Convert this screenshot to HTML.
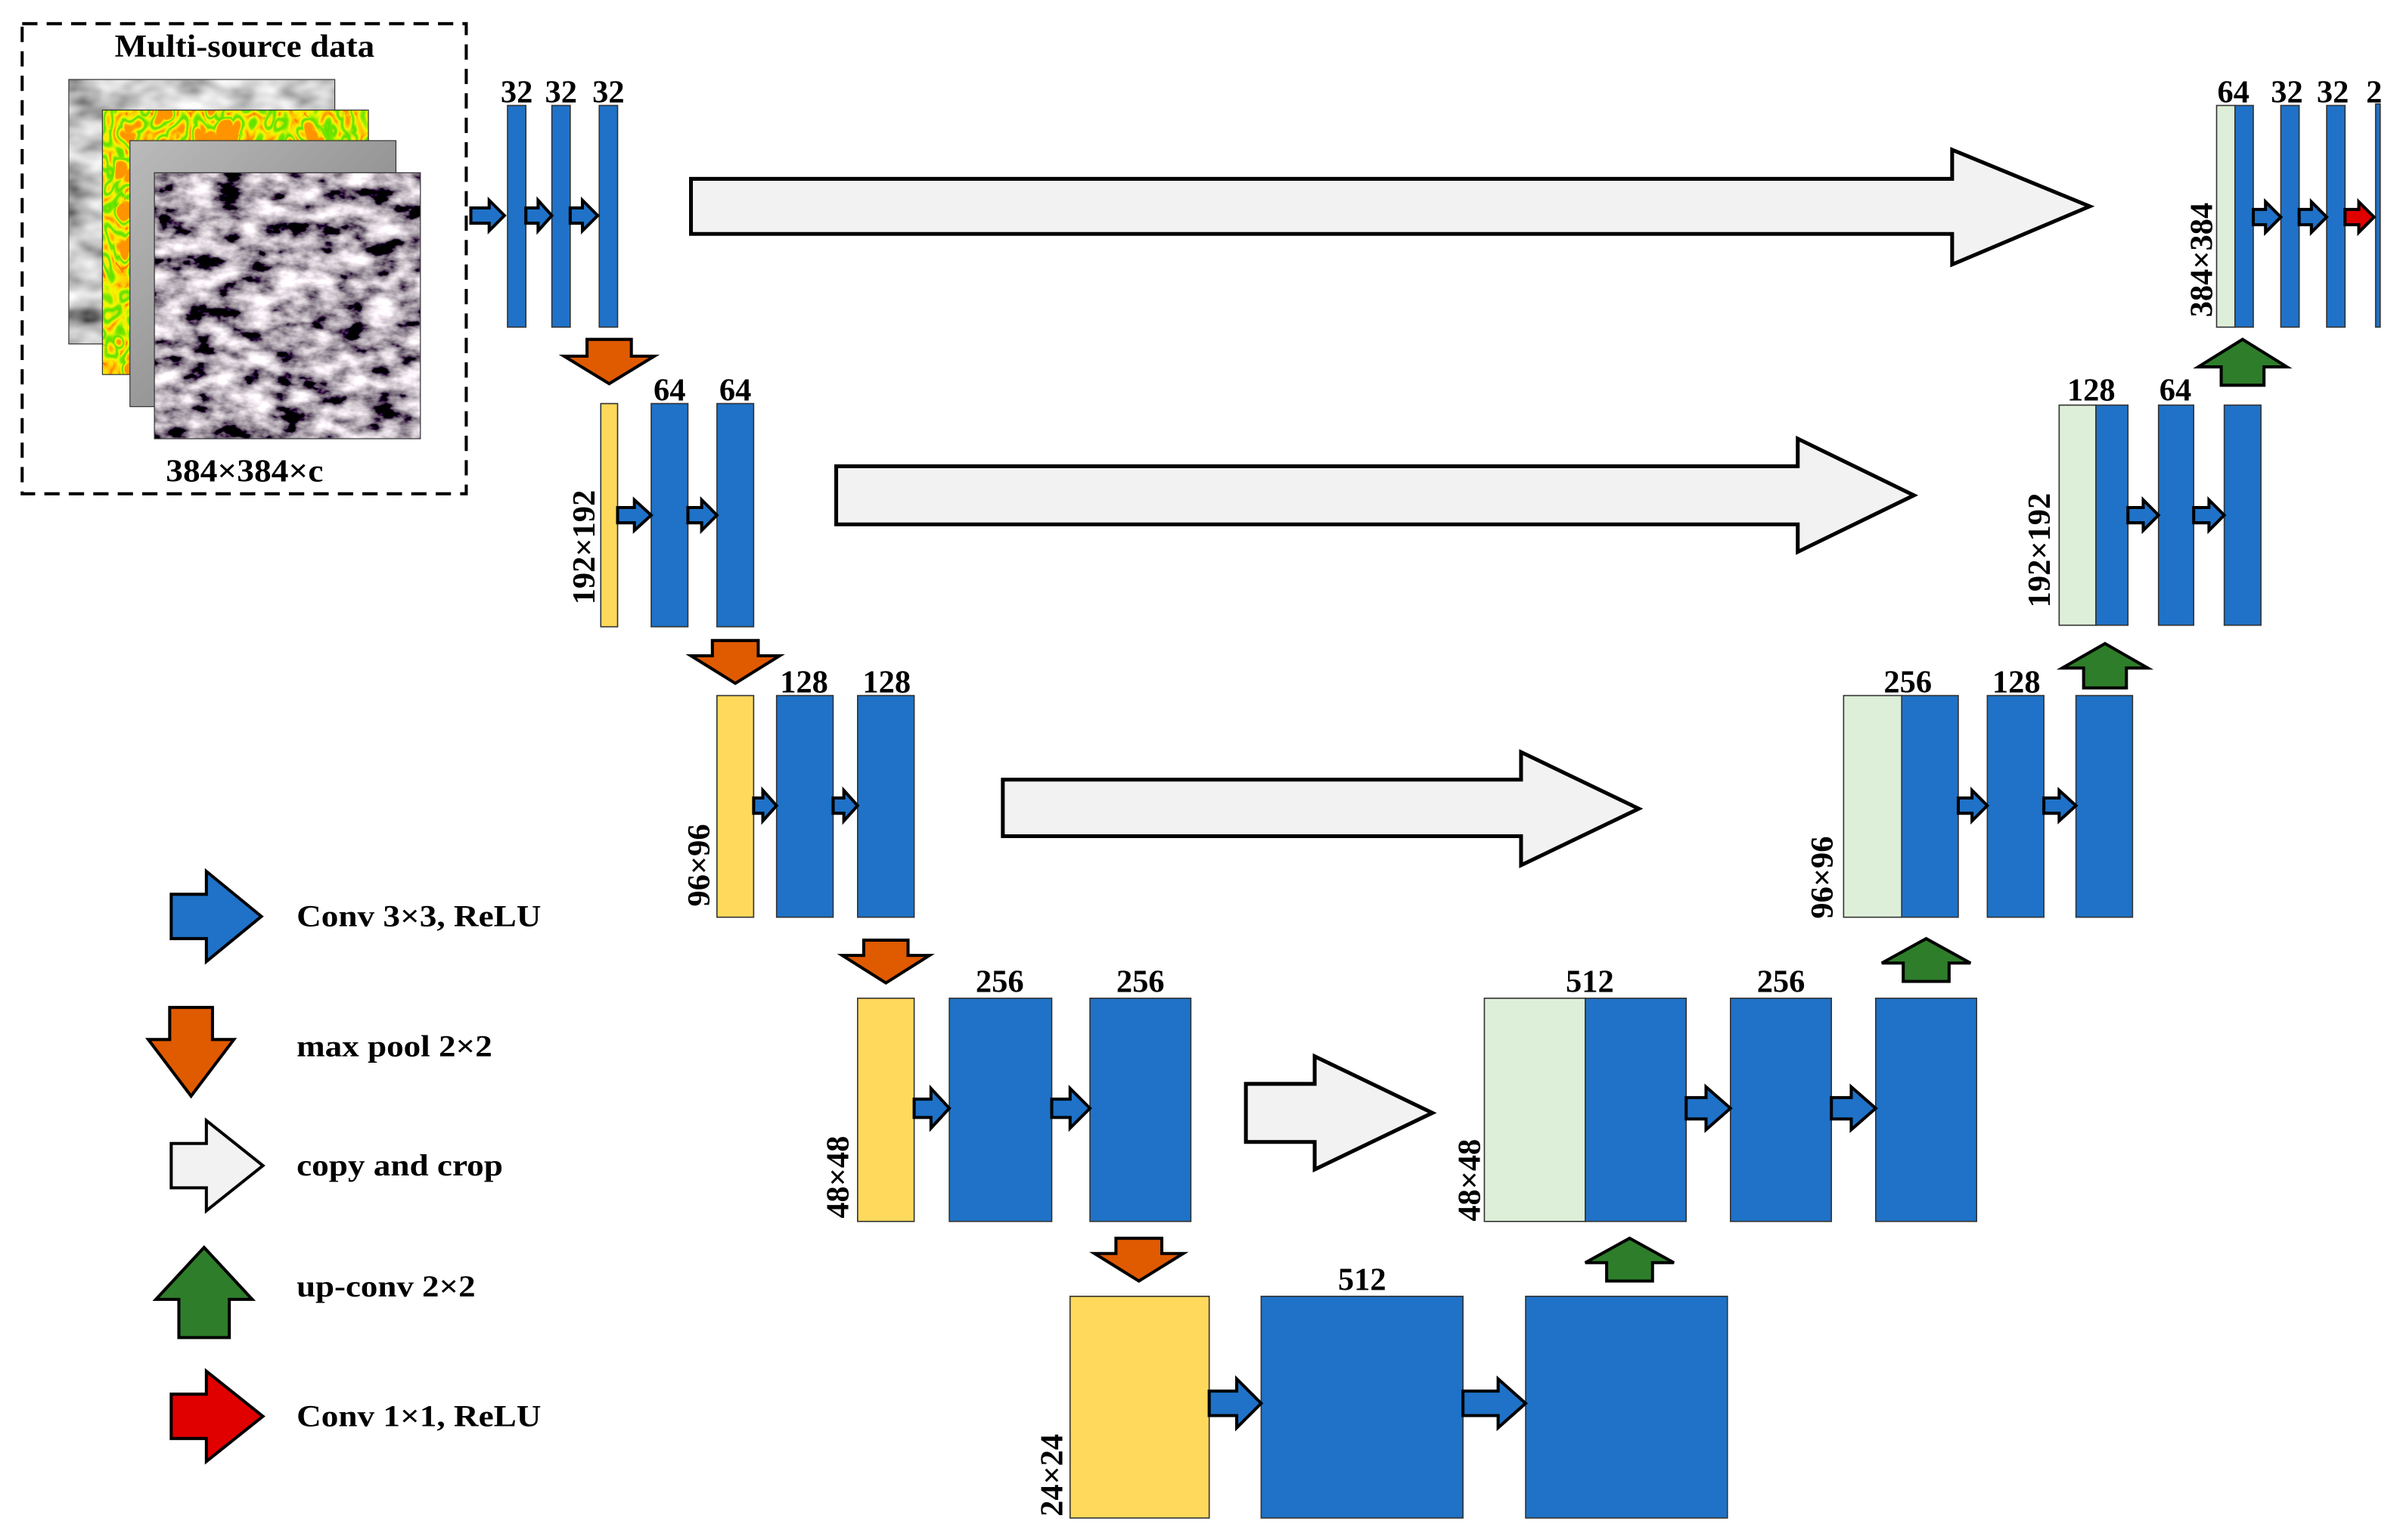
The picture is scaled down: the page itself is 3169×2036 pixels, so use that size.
<!DOCTYPE html>
<html><head><meta charset="utf-8"><style>html,body{margin:0;padding:0;background:#fff}svg{display:block}</style></head>
<body>
<svg xmlns="http://www.w3.org/2000/svg" width="3169" height="2036" viewBox="0 0 1568 1007.4" preserveAspectRatio="none">
<defs>
<filter id="fsat" x="0" y="0" width="1" height="1"><feTurbulence type="fractalNoise" baseFrequency="0.05 0.09" numOctaves="4" seed="3"/><feColorMatrix type="matrix" values="2.4 0 0 0 -0.75  2.3 0 0 0 -0.75  2.3 0 0 0 -0.7  0 0 0 0 1"/></filter>
<filter id="fhill" x="0" y="0" width="1" height="1"><feTurbulence type="fractalNoise" baseFrequency="0.03 0.05" numOctaves="3" seed="7"/><feColorMatrix type="matrix" values="1.8 0 0 0 -0.3  1.8 0 0 0 -0.3  1.8 0 0 0 -0.3  0 0 0 0 1"/></filter>
<filter id="fcol" x="0" y="0" width="1" height="1"><feTurbulence type="turbulence" baseFrequency="0.06 0.04" numOctaves="2" seed="11"/><feColorMatrix type="matrix" values="2.5 0 0 0 0  2.5 0 0 0 0  2.5 0 0 0 0  0 0 0 0 1"/><feComponentTransfer><feFuncR type="table" tableValues="1 1 0.9 0.2 0.1 1 1"/><feFuncG type="table" tableValues="0.2 0.6 0.95 0.8 0.75 0.9 0.3"/><feFuncB type="table" tableValues="0 0 0 0 0 0 0"/></feComponentTransfer></filter>
<linearGradient id="ggray" x1="0" y1="0" x2="1" y2="1"><stop offset="0" stop-color="#bbb"/><stop offset="0.5" stop-color="#999"/><stop offset="1" stop-color="#777"/></linearGradient>
</defs>
<g font-family="'Liberation Serif', serif" font-weight="bold" fill="#000">
<rect x="14.5" y="15.5" width="290.5" height="307.5" fill="none" stroke="#000" stroke-width="2" stroke-dasharray="10,6"/>
<text x="160" y="37" font-size="21" text-anchor="middle" textLength="170" lengthAdjust="spacingAndGlyphs">Multi-source data</text>
<rect x="45" y="52" width="174" height="173" fill="#ccc" filter="url(#fhill)"/>
<rect x="45" y="52" width="174" height="173" fill="none" stroke="#333" stroke-width="0.6"/>
<rect x="67" y="72" width="174" height="173" fill="#ff0" filter="url(#fcol)"/>
<rect x="67" y="72" width="174" height="173" fill="none" stroke="#333" stroke-width="0.6"/>
<rect x="85" y="92" width="174" height="174" fill="url(#ggray)" stroke="#333" stroke-width="0.6"/>
<rect x="101" y="113" width="174" height="174" fill="#888" filter="url(#fsat)"/>
<rect x="101" y="113" width="174" height="174" fill="none" stroke="#333" stroke-width="0.6"/>
<text x="160" y="315" font-size="21" text-anchor="middle" textLength="103" lengthAdjust="spacingAndGlyphs">384×384×c</text>

<g fill="#f2f2f2" stroke="#000" stroke-width="2.5" stroke-linejoin="miter">
<polygon points="452,117 1277,117 1277,98 1367,135 1277,173 1277,153 452,153"/>
<polygon points="547,305 1176,305 1176,287 1252,324 1176,361 1176,343 547,343"/>
<polygon points="656,510 995,510 995,492 1072,529 995,566 995,547 656,547"/>
<polygon points="815,709 860,709 860,691 937,728 860,765 860,747 815,747"/>
</g>

<g stroke="#333" stroke-width="0.8">
<g fill="#1f72c7">
<rect x="332" y="69" width="12" height="145"/><rect x="361" y="69" width="12" height="145"/><rect x="392" y="69" width="12" height="145"/>
<rect x="426" y="264" width="24" height="146"/><rect x="469" y="264" width="24" height="146"/>
<rect x="508" y="455" width="37" height="145"/><rect x="561" y="455" width="37" height="145"/>
<rect x="621" y="653" width="67" height="146"/><rect x="713" y="653" width="66" height="146"/>
<rect x="825" y="848" width="132" height="145"/><rect x="998" y="848" width="132" height="145"/>
<rect x="1037" y="653" width="66" height="146"/><rect x="1132" y="653" width="66" height="146"/><rect x="1227" y="653" width="66" height="146"/>
<rect x="1244" y="455" width="37" height="145"/><rect x="1300" y="455" width="37" height="145"/><rect x="1358" y="455" width="37" height="145"/>
<rect x="1371" y="265" width="21" height="144"/><rect x="1412" y="265" width="23" height="144"/><rect x="1455" y="265" width="24" height="144"/>
<rect x="1462" y="69" width="12" height="145"/><rect x="1492" y="69" width="12" height="145"/><rect x="1522" y="69" width="12" height="145"/><rect x="1554" y="68" width="3" height="146"/>
</g>
<g fill="#ffd95c">
<rect x="393" y="264" width="11" height="146"/><rect x="469" y="455" width="24" height="145"/><rect x="561" y="653" width="37" height="146"/><rect x="700" y="848" width="91" height="145"/>
</g>
<g fill="#ddefd8">
<rect x="971" y="653" width="66" height="146"/><rect x="1206" y="455" width="38" height="145"/><rect x="1347" y="265" width="24" height="144"/><rect x="1450" y="69" width="12" height="145"/>
</g>
</g>

<g fill="#1f72c7" stroke="#000" stroke-width="2">
<polygon points="308,136 320,136 320,131 330,141 320,151 320,146 308,146"/>
<polygon points="344,136 352,136 352,131 361,141 352,151 352,146 344,146"/>
<polygon points="373,136 381,136 381,131 391,141 381,151 381,146 373,146"/>
<polygon points="404,332 415,332 415,327 426,337 415,347 415,342 404,342"/>
<polygon points="450,332 459,332 459,327 469,337 459,347 459,342 450,342"/>
<polygon points="493,522 499,522 499,517 508,527 499,537 499,532 493,532"/>
<polygon points="545,522 552,522 552,517 561,527 552,537 552,532 545,532"/>
<polygon points="598,719 609,719 609,712 621,725 609,738 609,731 598,731"/>
<polygon points="688,719 700,719 700,712 713,725 700,738 700,731 688,731"/>
<polygon points="791,910 809,910 809,902 825,918 809,934 809,926 791,926"/>
<polygon points="957,910 980,910 980,902 998,918 980,934 980,926 957,926"/>
<polygon points="1103,718 1116,718 1116,711 1132,725 1116,739 1116,732 1103,732"/>
<polygon points="1198,718 1211,718 1211,711 1227,725 1211,739 1211,732 1198,732"/>
<polygon points="1281,522 1290,522 1290,517 1300,527 1290,537 1290,532 1281,532"/>
<polygon points="1337,522 1347,522 1347,517 1358,527 1347,537 1347,532 1337,532"/>
<polygon points="1392,332 1402,332 1402,327 1412,337 1402,347 1402,342 1392,342"/>
<polygon points="1435,332 1445,332 1445,327 1455,337 1445,347 1445,342 1435,342"/>
<polygon points="1474,137 1482,137 1482,132 1492,142 1482,152 1482,147 1474,147"/>
<polygon points="1504,137 1512,137 1512,132 1522,142 1512,152 1512,147 1504,147"/>
<polygon points="112,585 135,585 135,570 171,599.5 135,629 135,614 112,614"/>
</g>
<g fill="#e00000" stroke="#000" stroke-width="2">
<polygon points="1534,137 1543,137 1543,132 1553,142 1543,152 1543,147 1534,147"/>
<polygon points="112,912 135,912 135,897 172,926.5 135,956 135,941 112,941"/>
</g>
<polygon points="112,748 135,748 135,733 172,762.5 135,792 135,777 112,777" fill="#f2f2f2" stroke="#000" stroke-width="2"/>
<g fill="#e05a00" stroke="#000" stroke-width="2">
<polygon points="384,222 413,222 413,233 428,233 398.5,251 369,233 384,233"/>
<polygon points="466,419 496,419 496,429 510,429 481,447 452,429 466,429"/>
<polygon points="565,615 594,615 594,625 608,625 579.5,643 551,625 565,625"/>
<polygon points="730,810 760,810 760,820 774,820 745,838 716,820 730,820"/>
<polygon points="111,659 139,659 139,680 153,680 125,717 97,680 111,680"/>
</g>
<g fill="#2e7d2a" stroke="#000" stroke-width="2">
<polygon points="1066,810 1095,826 1081,826 1081,838 1051,838 1051,826 1037,826"/>
<polygon points="1260,614 1289,630 1275,630 1275,642 1245,642 1245,630 1231,630"/>
<polygon points="1377,421 1405,437 1391,437 1391,450 1363,450 1363,437 1349,437"/>
<polygon points="1467,222 1496,240 1481,240 1481,252 1453,252 1453,240 1438,240"/>
<polygon points="133.5,816 165,850 150,850 150,875 117,875 117,850 102,850"/>
</g>

<g font-size="21" text-anchor="middle">
<text x="338" y="67">32</text><text x="367" y="67">32</text><text x="398" y="67">32</text>
<text x="438" y="262">64</text><text x="481" y="262">64</text>
<text x="526" y="453">128</text><text x="580" y="453">128</text>
<text x="654" y="649">256</text><text x="746" y="649">256</text>
<text x="891" y="844">512</text>
<text x="1040" y="649">512</text><text x="1165" y="649">256</text>
<text x="1248" y="453">256</text><text x="1319" y="453">128</text>
<text x="1368" y="262">128</text><text x="1423" y="262">64</text>
<text x="1461" y="67">64</text><text x="1496" y="67">32</text><text x="1526" y="67">32</text><text x="1553" y="67">2</text>
</g>
<g font-size="21" text-anchor="middle">
<text transform="translate(389,358) rotate(-90)">192×192</text>
<text transform="translate(464,566) rotate(-90)">96×96</text>
<text transform="translate(555,770) rotate(-90)">48×48</text>
<text transform="translate(695,965) rotate(-90)">24×24</text>
<text transform="translate(968,772) rotate(-90)">48×48</text>
<text transform="translate(1199,574) rotate(-90)">96×96</text>
<text transform="translate(1341,360) rotate(-90)">192×192</text>
<text transform="translate(1447,170) rotate(-90)">384×384</text>
</g>
<g font-size="20">
<text x="194" y="606" textLength="160" lengthAdjust="spacingAndGlyphs">Conv 3×3, ReLU</text>
<text x="194" y="691" textLength="128" lengthAdjust="spacingAndGlyphs">max pool 2×2</text>
<text x="194" y="769" textLength="135" lengthAdjust="spacingAndGlyphs">copy and crop</text>
<text x="194" y="848" textLength="117" lengthAdjust="spacingAndGlyphs">up-conv 2×2</text>
<text x="194" y="933" textLength="160" lengthAdjust="spacingAndGlyphs">Conv 1×1, ReLU</text>
</g>
</g>
</svg>
</body></html>
